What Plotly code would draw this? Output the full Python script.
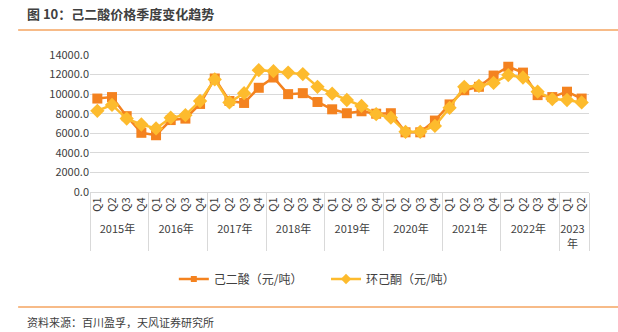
import plotly.graph_objects as go

years = ["2015年", "2016年", "2017年", "2018年", "2019年", "2020年", "2021年", "2022年", "2023<br>年"]
quarters = ["Q1", "Q2", "Q3", "Q4"]
n_last = 2

adipic = [9550, 9700, 7750, 6050, 5800, 7350, 7500, 9000,
          11600, 9300, 9100, 10650, 11700, 10000, 10100, 9200,
          8450, 8050, 8250, 8000, 8050, 6100, 6100, 7300,
          8950, 10400, 10750, 11900, 12800, 12200, 9900, 9700,
          10250, 9550]
cyclohexanone = [8300, 8900, 7500, 6900, 6500, 7600, 7850, 9300,
                 11500, 9150, 10100, 12450, 12350, 12200, 12050, 10750,
                 10050, 9400, 8800, 7950, 7600, 6150, 6150, 6750,
                 8600, 10750, 10850, 11150, 11950, 11700, 10250, 9500,
                 9400, 9150]

x_year, x_q = [], []
for i, y in enumerate(years):
    qs = quarters if i < len(years) - 1 else quarters[:n_last]
    for q in qs:
        x_year.append(y)
        x_q.append(q)
n_cat = len(x_q)

FONT = "Noto Sans CJK SC"
C1 = "#F4821F"
C2 = "#FDBB2D"

fig = go.Figure()
fig.add_trace(go.Scatter(x=[x_year, x_q], y=adipic, mode="lines+markers",
                         name="己二酸（元/吨）", showlegend=False,
                         line=dict(color=C1, width=2.5),
                         marker=dict(symbol="square", size=10, color=C1)))
fig.add_trace(go.Scatter(x=[x_year, x_q], y=cyclohexanone, mode="lines+markers",
                         name="环己酮（元/吨）", showlegend=False,
                         line=dict(color=C2, width=2.5),
                         marker=dict(symbol="diamond", size=11, color=C2)))
# legend entries with small markers (as in the reference)
fig.add_trace(go.Scatter(x=[None], y=[None], mode="lines+markers",
                         name="己二酸（元/吨）", legend="legend",
                         line=dict(color=C1, width=2.5),
                         marker=dict(symbol="square", size=6, color=C1)))
fig.add_trace(go.Scatter(x=[None], y=[None], mode="lines+markers",
                         name="环己酮（元/吨）", legend="legend2",
                         line=dict(color=C2, width=2.5),
                         marker=dict(symbol="diamond", size=8, color=C2)))

legend_common = dict(orientation="h", y=-0.635, yanchor="middle", xanchor="left",
                     bgcolor="rgba(0,0,0,0)", font=dict(size=12, color="#404040"))

fig.update_layout(
    width=618, height=332,
    margin=dict(l=90, r=29, t=55, b=140, autoexpand=False),
    paper_bgcolor="white", plot_bgcolor="white",
    font=dict(family=FONT, size=11, color="#404040"),
    showlegend=True,
    legend=dict(x=0.168, **legend_common),
    legend2=dict(x=0.473, **legend_common),
    xaxis=dict(type="multicategory", tickangle=-90, showgrid=False,
               range=[-0.5, n_cat - 0.5], autorange=False, automargin=False,
               showline=True, linecolor="#D9D9D9", linewidth=1, mirror=False,
               showdividers=True, dividercolor="#D9D9D9", dividerwidth=1,
               tickfont=dict(family=FONT, size=11, color="#404040"), ticks=""),
    yaxis=dict(range=[0, 14000], dtick=2000, tickformat=".1f", automargin=False,
               showgrid=True, gridcolor="#D9D9D9", gridwidth=1,
               zeroline=False, showline=False, ticks="",
               tickfont=dict(size=11, color="#404040")),
)

fig.add_annotation(text="图 10：己二酸价格季度变化趋势", xref="paper", yref="paper",
                   x=-0.13, y=1.0, xanchor="left", yanchor="bottom",
                   yshift=30, showarrow=False,
                   font=dict(family=FONT, size=13, color="#404040", weight="bold"))
fig.add_annotation(text="资料来源：百川盈孚，天风证券研究所", xref="paper", yref="paper",
                   x=-0.13, y=0, xanchor="left", yanchor="top", yshift=-120,
                   showarrow=False, font=dict(family=FONT, size=11, color="#404040"))
fig.add_shape(type="line", xref="paper", yref="paper", x0=-0.144, x1=1.06,
              y0=1.182, y1=1.182, line=dict(color="#F4A460", width=1.5))
fig.add_shape(type="line", xref="paper", yref="paper", x0=-0.144, x1=1.06,
              y0=-0.839, y1=-0.839, line=dict(color="#F4A460", width=1.5))

fig.write_html("out.html")
